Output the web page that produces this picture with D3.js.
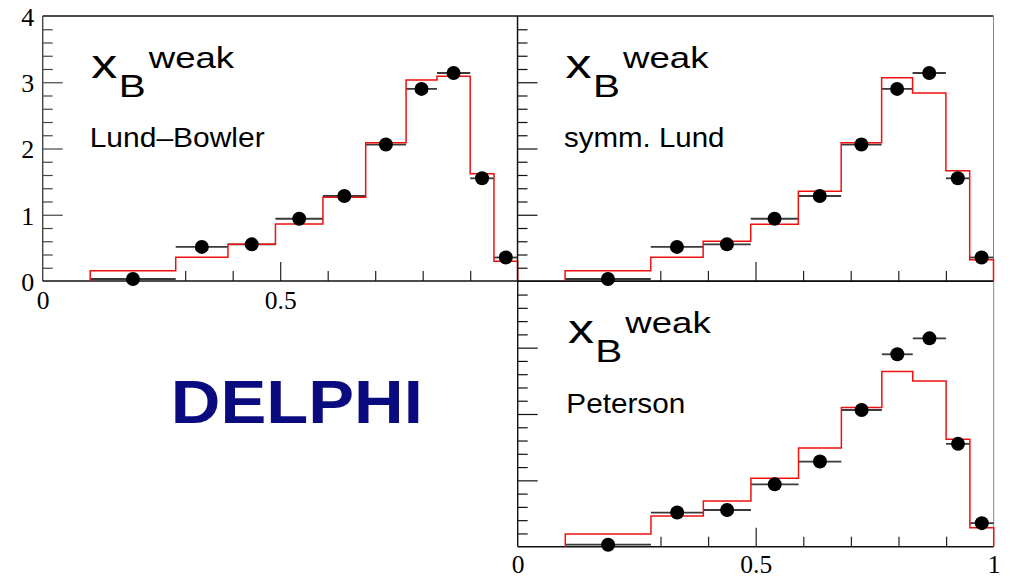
<!DOCTYPE html>
<html>
<head>
<meta charset="utf-8">
<script src="https://cdn.jsdelivr.net/npm/d3@7"></script>
<style>
  html, body { margin: 0; padding: 0; background: #fff; }
  svg { display: block; }
</style>
</head>
<body>
<svg id="chart" width="1012" height="579"></svg>
<script>
// x_B^weak distribution: bin edges, measured points and three model predictions
const binEdges   = [0.10, 0.28, 0.39, 0.49, 0.59, 0.68, 0.765, 0.83, 0.90, 0.95, 1.00];
const dataValues = [0.03, 0.515, 0.553, 0.94, 1.283, 2.06, 2.90, 3.14, 1.55, 0.355];
const lundBowler = [0.156, 0.357, 0.553, 0.86, 1.263, 2.088, 3.034, 3.09, 1.62, 0.297];
const symmLund   = [0.156, 0.357, 0.599, 0.855, 1.353, 2.088, 3.069, 2.838, 1.665, 0.322];
const peterson   = [0.19, 0.463, 0.69, 1.03, 1.487, 2.097, 2.64, 2.497, 1.62, 0.287];
const modelNames = ["Lund\u2013Bowler", "symm. Lund", "Peterson"];
const yLabelTicks = [0, 1, 2, 3, 4];
const yMajorTicks = [1, 2, 3];
const yMinorTicks = [0.2, 0.4, 0.6, 0.8, 1.2, 1.4, 1.6, 1.8, 2.2, 2.4, 2.6, 2.8, 3.2, 3.4, 3.6, 3.8];
const xMajorTicks = [0.5];
const xMinorTicks = [0.3, 0.4, 0.6, 0.7, 0.8, 0.9];
const experiment = "DELPHI";

const svg = d3.select("#chart");
const serif = "'Liberation Serif', 'Times New Roman', serif";
const sans = "'Liberation Sans', Arial, Helvetica, sans-serif";

// panel frames; the bottom one is drawn first so the upper panels sit on top
const panels = [
  { model: peterson, name: modelNames[2], left: 517.7, right: 993.7, top: 281.3, bottom: 546.7,
    yLabels: false, xLabels: [0, 0.5, 1], labelPad: 8.5, inkX: 568.3, labelDy: 131.4, axisColor: "#111" },
  { model: lundBowler, name: modelNames[0], left: 42.7, right: 517.7, top: 16, bottom: 281,
    yLabels: true, xLabels: [0, 0.5], labelPad: 10, inkX: 91.7, labelDy: 130.7, axisColor: "#444" },
  { model: symmLund, name: modelNames[1], left: 517.5, right: 993.5, top: 16, bottom: 281,
    yLabels: false, xLabels: [], labelPad: 10, inkX: 566, labelDy: 130.7, axisColor: "#111" }
];

function drawPanel(p) {
  const x = d3.scaleLinear().domain([0, 1]).range([p.left, p.right]);
  const y = d3.scaleLinear().domain([0, 4]).range([p.bottom, p.top]);
  const g = svg.append("g");

  // frame: top (black) and right (grey)
  g.append("line").attr("x1", p.left).attr("x2", p.right).attr("y1", p.top).attr("y2", p.top)
    .attr("stroke", "#111").attr("stroke-width", 1.3);
  g.append("line").attr("x1", p.right).attr("x2", p.right).attr("y1", p.top).attr("y2", p.bottom)
    .attr("stroke", "#888").attr("stroke-width", 1);

  // y axis ticks (pointing inwards)
  const yAxisG = g.append("g").attr("transform", `translate(${p.left},0)`);
  yAxisG.append("g").call(d3.axisLeft(y).tickValues(yMinorTicks).tickSizeInner(-10).tickSizeOuter(0).tickFormat(""));
  yAxisG.append("g").call(d3.axisLeft(y).tickValues(yMajorTicks).tickSizeInner(-20).tickSizeOuter(0).tickFormat(""));
  yAxisG.selectAll(".domain").remove();
  yAxisG.selectAll("line").attr("stroke", p.axisColor).attr("stroke-width", 1.2);
  yAxisG.append("line").attr("x1", 0).attr("x2", 0).attr("y1", p.top).attr("y2", p.bottom)
    .attr("stroke", p.axisColor).attr("stroke-width", 1.4);

  if (p.yLabels) {
    const lab = yAxisG.append("g").call(d3.axisLeft(y).tickValues(yLabelTicks).tickSize(0).tickPadding(8.5).tickFormat(d3.format("d")));
    lab.select(".domain").remove();
    lab.selectAll("text").attr("font-family", serif).attr("font-size", 26).attr("fill", "#000").attr("dy", "0.36em");
  }

  // x axis ticks (pointing up)
  const xAxisG = g.append("g").attr("transform", `translate(0,${p.bottom})`);
  xAxisG.append("g").call(d3.axisBottom(x).tickValues(xMinorTicks).tickSizeInner(-10).tickSizeOuter(0).tickFormat(""));
  xAxisG.append("g").call(d3.axisBottom(x).tickValues(xMajorTicks).tickSizeInner(-19).tickSizeOuter(0).tickFormat(""));
  xAxisG.selectAll(".domain").remove();
  xAxisG.selectAll("line").attr("stroke", "#222").attr("stroke-width", 1.2);
  xAxisG.append("line").attr("x1", p.left).attr("x2", p.right).attr("y1", 0).attr("y2", 0)
    .attr("stroke", "#111").attr("stroke-width", 1.4);

  if (p.xLabels.length) {
    const lab = xAxisG.append("g").call(d3.axisBottom(x).tickValues(p.xLabels).tickSize(0).tickPadding(p.labelPad)
      .tickFormat(d => d === 0.5 ? "0.5" : d3.format("d")(d)));
    lab.select(".domain").remove();
    lab.selectAll("text").attr("font-family", serif).attr("font-size", 25.5).attr("fill", "#000");
  }

  // horizontal error bars spanning each bin
  g.append("g").selectAll("line").data(dataValues).join("line")
    .attr("x1", (d, i) => x(binEdges[i])).attr("x2", (d, i) => x(binEdges[i + 1]))
    .attr("y1", d => y(d)).attr("y2", d => y(d))
    .attr("stroke", "#3a3a3a").attr("stroke-width", 1.8);

  // model histogram as a step outline
  const pts = [[binEdges[0], 0]];
  p.model.forEach((v, i) => { pts.push([binEdges[i], v]); pts.push([binEdges[i + 1], v]); });
  pts.push([binEdges[binEdges.length - 1], 0]);
  g.append("path").attr("d", d3.line().x(d => x(d[0])).y(d => y(d[1]))(pts))
    .attr("fill", "none").attr("stroke", "#f01010").attr("stroke-width", 1.5);

  // measured points
  g.append("g").selectAll("circle").data(dataValues).join("circle")
    .attr("cx", (d, i) => x((binEdges[i] + binEdges[i + 1]) / 2)).attr("cy", d => y(d))
    .attr("r", 7).attr("fill", "#000");

  // title x_B^weak and model name
  const t = g.append("g").attr("font-family", sans).attr("fill", "#000");
  t.append("text").attr("x", p.inkX - 0.4).attr("y", p.top + 61.5).attr("font-size", 41)
    .attr("textLength", 26).attr("lengthAdjust", "spacingAndGlyphs").text("x");
  t.append("text").attr("x", p.inkX + 27).attr("y", p.top + 80.7).attr("font-size", 30.5)
    .attr("textLength", 27).attr("lengthAdjust", "spacingAndGlyphs").text("B");
  t.append("text").attr("x", p.inkX + 57).attr("y", p.top + 51.6).attr("font-size", 29.5)
    .attr("textLength", 85.5).attr("lengthAdjust", "spacingAndGlyphs").text("weak");
  const labelLen = { "Lund\u2013Bowler": 175, "symm. Lund": 160.5, "Peterson": 119 };
  t.append("text").attr("x", p.inkX - 2).attr("y", p.top + p.labelDy).attr("font-size", 28)
    .attr("textLength", labelLen[p.name]).attr("lengthAdjust", "spacingAndGlyphs").text(p.name);
}

panels.forEach(drawPanel);

// experiment label
svg.append("text").attr("x", 170.8).attr("y", 423.3)
  .attr("font-family", sans).attr("font-weight", "bold").attr("font-size", 60.5)
  .attr("textLength", 252).attr("lengthAdjust", "spacingAndGlyphs")
  .attr("fill", "#0b0b80").text(experiment);
</script>
</body>
</html>
